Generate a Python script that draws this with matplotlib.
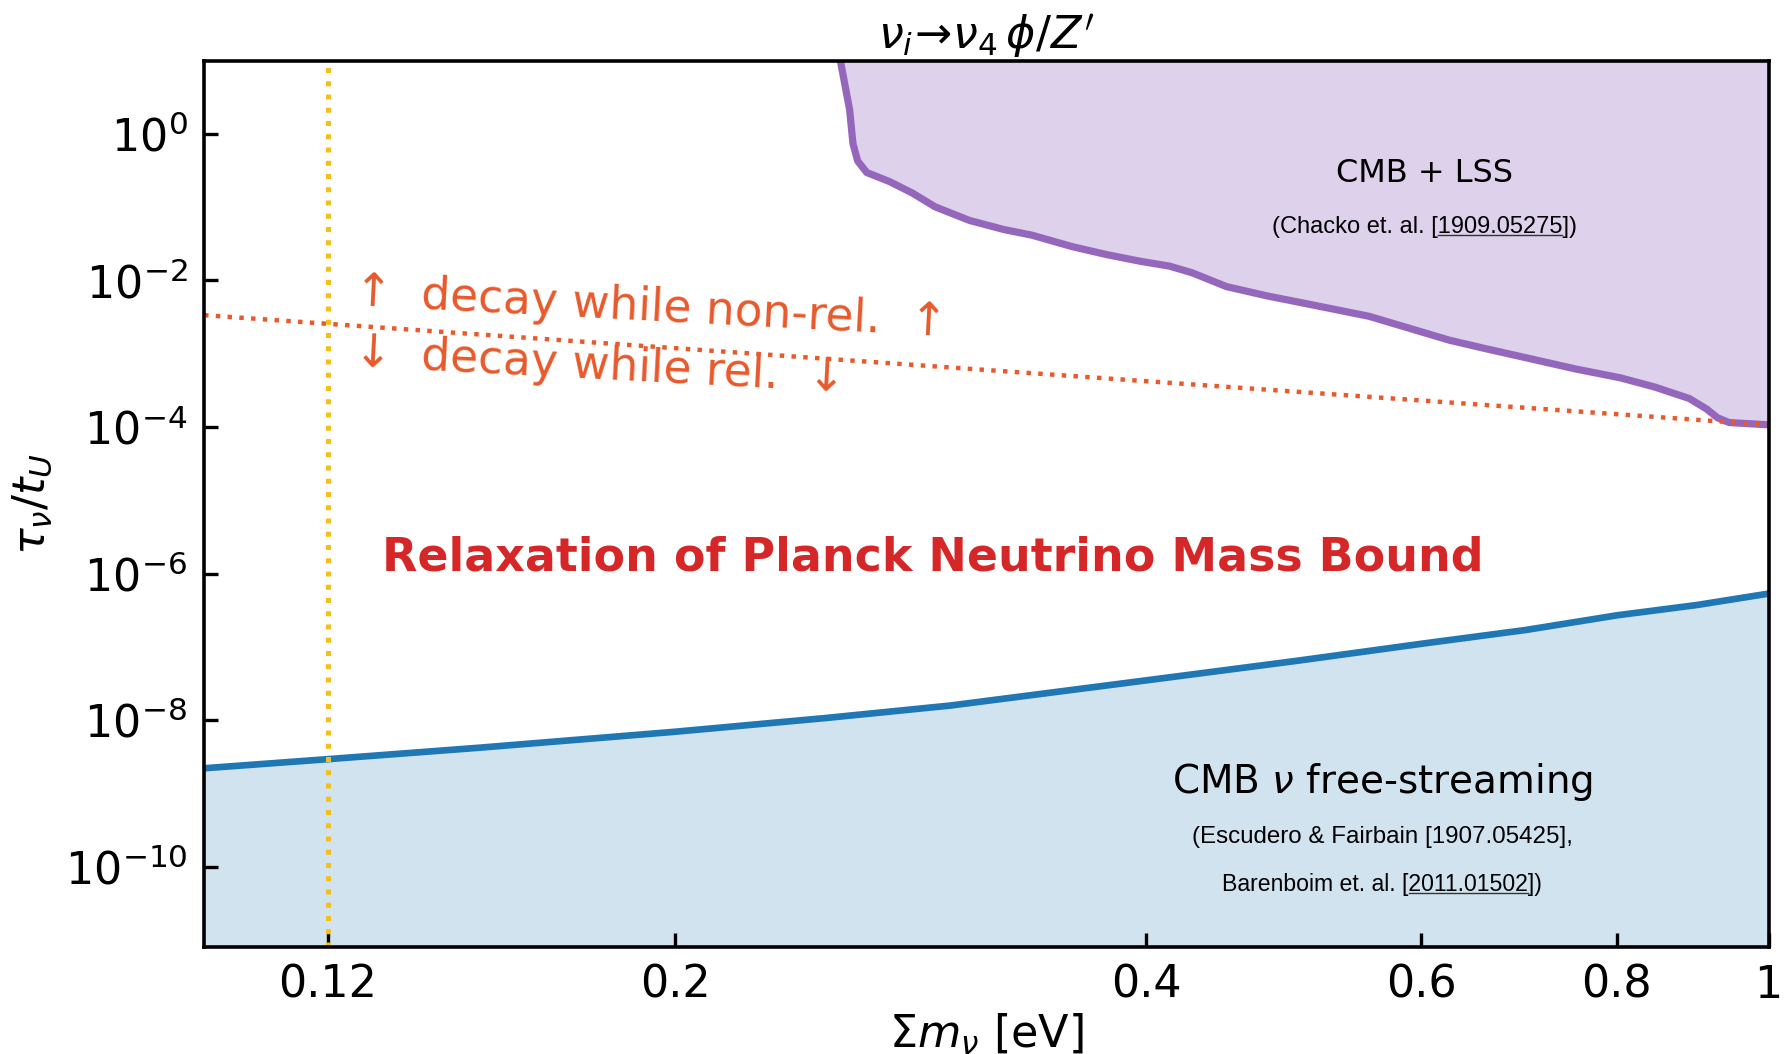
import matplotlib
matplotlib.use('Agg')
import matplotlib.pyplot as plt
from matplotlib import rcParams
from matplotlib.ticker import NullLocator
from matplotlib.lines import Line2D

rcParams['font.size'] = 16
rcParams['mathtext.fontset'] = 'dejavusans'

# CMB + LSS excluded region (upper boundary curve)
lss_mass = [0.2551, 0.2586, 0.2599, 0.2617, 0.2652, 0.2743, 0.2836, 0.2933,
            0.3085, 0.3245, 0.3383, 0.3589, 0.3776, 0.3970, 0.4140, 0.4282,
            0.4503, 0.4776, 0.5023, 0.5283, 0.5555, 0.5943, 0.6251, 0.6574,
            0.7031, 0.7520, 0.8043, 0.8458, 0.8898, 0.9125, 0.9280, 0.9437,
            1.0]
lss_tau = [10.0, 2.14, 0.73, 0.426, 0.297, 0.223, 0.156, 0.101, 0.0659,
           0.0495, 0.0414, 0.0289, 0.0225, 0.0182, 0.0157, 0.0127, 8.24e-3,
           6.18e-3, 4.99e-3, 4.02e-3, 3.24e-3, 2.11e-3, 1.53e-3, 1.19e-3,
           8.61e-4, 6.22e-4, 4.68e-4, 3.51e-4, 2.45e-4, 1.77e-4, 1.33e-4,
           1.15e-4, 1.07e-4]

# CMB neutrino free-streaming bound
fs_mass = [0.1, 0.12, 0.15, 0.2, 0.25, 0.3, 0.4, 0.5, 0.6, 0.7, 0.8, 0.9, 1.0]
fs_tau = [2.20e-9, 2.93e-9, 4.20e-9, 6.93e-9, 1.07e-8, 1.58e-8, 3.48e-8,
          6.46e-8, 1.10e-7, 1.70e-7, 2.69e-7, 3.72e-7, 5.32e-7]

# relativistic / non-relativistic decay divide
nr_mass = [0.1, 1.0]
nr_tau = [3.36e-3, 1.07e-4]

planck_mass = 0.12

xticks = [0.12, 0.2, 0.4, 0.6, 0.8, 1.0]
xticklabels = ['0.12', '0.2', '0.4', '0.6', '0.8', '1']
yticks = [1e0, 1e-2, 1e-4, 1e-6, 1e-8, 1e-10]

ymin, ymax = 8e-12, 10.
orange = '#e8592b'
cite_font = ['Liberation Sans', 'DejaVu Sans']

fig = plt.figure(figsize=(8.95, 5.27), dpi=200)
ax = fig.add_axes([0.114, 0.1015, 0.874, 0.841])
ax.set_xscale('log')
ax.set_yscale('log')

ax.fill_between(lss_mass, lss_tau, ymax, color='#9467bd', alpha=0.3,
                linewidth=0)
ax.plot(lss_mass, lss_tau, color='#9467bd', linewidth=2.6)

ax.fill_between(fs_mass, ymin, fs_tau, color='#1f77b4', alpha=0.2,
                linewidth=0)
ax.plot(fs_mass, fs_tau, color='#1f77b4', linewidth=2.4)

ax.plot(nr_mass, nr_tau, color=orange, linestyle=':', linewidth=1.6)
ax.axvline(planck_mass, color='#f5bf1b', linestyle=':', linewidth=1.8)

ax.set_xlim(0.1, 1.0)
ax.set_ylim(ymin, ymax)

ax.set_xticks(xticks)
ax.set_xticklabels(xticklabels)
ax.set_yticks(yticks)
ax.xaxis.set_minor_locator(NullLocator())
ax.yaxis.set_minor_locator(NullLocator())
ax.tick_params(which='both', direction='in', length=5, width=1.2,
               top=False, right=False, labelsize=16, pad=6)
for sp in ax.spines.values():
    sp.set_linewidth(1.3)

ax.set_xlabel(r'$\Sigma m_\nu$ [eV]', fontsize=16, labelpad=2)
ax.set_ylabel(r'$\tau_\nu/t_U$', fontsize=16, labelpad=4)
ax.set_title(r"$\nu_i\!\rightarrow\!\nu_4\,\phi/Z'$", fontsize=16, pad=4)

ax.text(0.466, 0.439, 'Relaxation of Planck Neutrino Mass Bound',
        transform=ax.transAxes, ha='center', va='center', fontsize=16.5,
        fontweight='bold', color='#d62728')

ax.text(0.096, 0.738, '\u2191  decay while non-rel.  \u2191',
        transform=ax.transAxes, ha='left', va='center', fontsize=16.4,
        color=orange, rotation=-3, rotation_mode='anchor')
ax.text(0.096, 0.670, '\u2193  decay while rel.  \u2193',
        transform=ax.transAxes, ha='left', va='center', fontsize=16.4,
        color=orange, rotation=-3, rotation_mode='anchor')

ax.text(0.780, 0.873, 'CMB + LSS', transform=ax.transAxes, ha='center',
        va='center', fontsize=11.5)
cite1 = ax.text(0.780, 0.812, '(Chacko et. al. [1909.05275])',
                transform=ax.transAxes, ha='center', va='center',
                fontsize=8.5, family=cite_font)

ax.text(0.753, 0.186, r'CMB $\nu$ free-streaming', transform=ax.transAxes,
        ha='center', va='center', fontsize=14)
cite2 = ax.text(0.753, 0.124, '(Escudero & Fairbain [1907.05425],',
                transform=ax.transAxes, ha='center', va='center',
                fontsize=8.7, family=cite_font)
cite3 = ax.text(0.753, 0.070, 'Barenboim et. al. [2011.01502])',
                transform=ax.transAxes, ha='center', va='center',
                fontsize=8.3, family=cite_font)


def underline(txt, part):
    # underline the arXiv number inside a citation text
    r = fig.canvas.get_renderer()
    full = txt.get_text()
    i = full.index(part)
    bb = txt.get_window_extent(r)
    fp = txt.get_fontproperties()
    t1 = fig.text(0, 0, full[:i], fontproperties=fp)
    t2 = fig.text(0, 0, part, fontproperties=fp)
    w_pre = t1.get_window_extent(r).width
    w_part = t2.get_window_extent(r).width
    t1.remove()
    t2.remove()
    x0 = bb.x0 + w_pre
    y = bb.y0 + 0.14 * bb.height
    fig.add_artist(Line2D([x0, x0 + w_part], [y, y], transform=None,
                          color='#333333', linewidth=0.5))


fig.canvas.draw()
underline(cite1, '1909.05275')
underline(cite3, '2011.01502')

fig.savefig('out.png', dpi=200)
